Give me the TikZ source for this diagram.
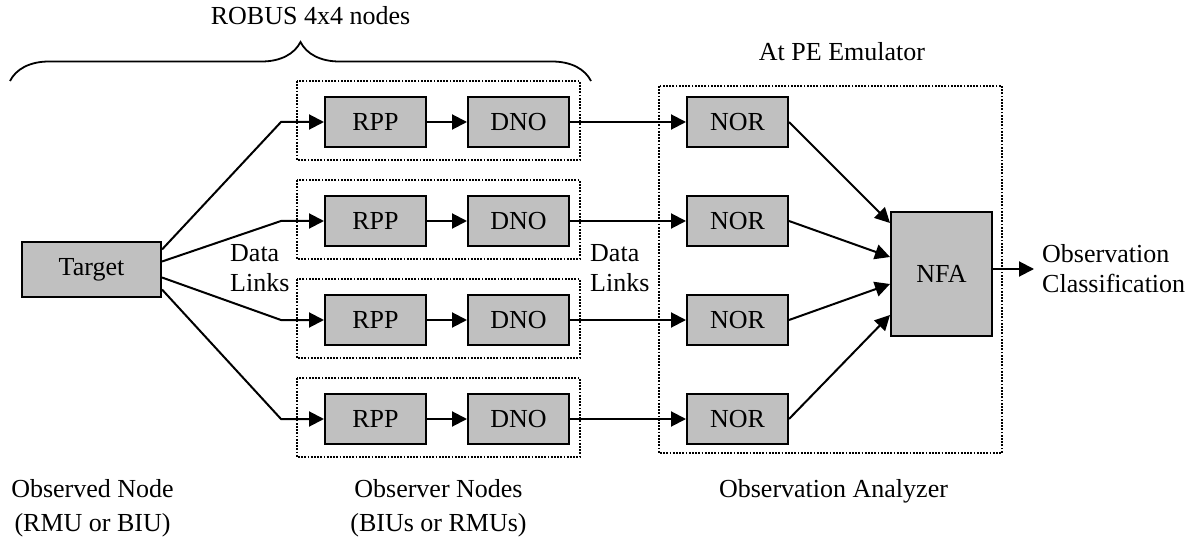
\documentclass[tikz,border=0pt]{standalone}
\usepackage{fontspec}
\setmainfont{Liberation Serif}
\usetikzlibrary{arrows.meta,decorations.pathreplacing}
\definecolor{boxgray}{RGB}{192,192,192}
\begin{document}
\begin{tikzpicture}[x=1pt,y=-1pt,
  blk/.style={draw,line width=2pt,fill=boxgray,minimum width=101pt,minimum height=50pt,inner sep=0pt,font=\fontsize{26}{30}\selectfont},
  grp/.style={draw,line width=1.8pt,dash pattern=on 1.8pt off 1.4pt},
  lnk/.style={line width=2pt,-{Triangle[length=15pt,width=15pt]}},
  lbl/.style={font=\fontsize{26}{30}\selectfont,inner sep=0pt}]
	\useasboundingbox (0,0) rectangle (1193,545);
	% observed node
	\node[blk,minimum width=139pt,minimum height=55pt] (tgt) at (91.5,269.5) {Target};
	% observer nodes
	\draw[grp] (297,81) rectangle (580,160);
	\node[blk] (rpp1) at (375.5,122) {RPP};
	\node[blk] (dno1) at (518.5,122) {DNO};
	\draw[grp] (297,180) rectangle (580,259);
	\node[blk] (rpp2) at (375.5,221) {RPP};
	\node[blk] (dno2) at (518.5,221) {DNO};
	\draw[grp] (297,279) rectangle (580,358);
	\node[blk] (rpp3) at (375.5,320) {RPP};
	\node[blk] (dno3) at (518.5,320) {DNO};
	\draw[grp] (297,378) rectangle (580,457);
	\node[blk] (rpp4) at (375.5,419) {RPP};
	\node[blk] (dno4) at (518.5,419) {DNO};
	% observation analyzer
	\draw[grp] (659,86) rectangle (1002,453);
	\node[blk] (nor1) at (737.5,122) {NOR};
	\node[blk] (nor2) at (737.5,221) {NOR};
	\node[blk] (nor3) at (737.5,320) {NOR};
	\node[blk] (nor4) at (737.5,419) {NOR};
	\node[blk,minimum height=124pt] (nfa) at (941.5,274) {NFA};
	% links
	\coordinate (e1) at (281,122);
	\coordinate (e2) at (281,221);
	\coordinate (e3) at (281,320);
	\coordinate (e4) at (281,419);
	\draw[lnk] ([yshift=20pt]tgt.east) -- (e1) -- (rpp1);
	\draw[lnk] ([yshift=8pt]tgt.east) -- (e2) -- (rpp2);
	\draw[lnk] ([yshift=-8pt]tgt.east) -- (e3) -- (rpp3);
	\draw[lnk] ([yshift=-20pt]tgt.east) -- (e4) -- (rpp4);
	\draw[lnk] (rpp1) -- (dno1);
	\draw[lnk] (rpp2) -- (dno2);
	\draw[lnk] (rpp3) -- (dno3);
	\draw[lnk] (rpp4) -- (dno4);
	\draw[lnk] (dno1) -- (nor1);
	\draw[lnk] (dno2) -- (nor2);
	\draw[lnk] (dno3) -- (nor3);
	\draw[lnk] (dno4) -- (nor4);
	\draw[lnk] (nor1.east) -- ([yshift=51pt]nfa.west);
	\draw[lnk] (nor2.east) -- ([yshift=17pt]nfa.west);
	\draw[lnk] (nor3.east) -- ([yshift=-10pt]nfa.west);
	\draw[lnk] (nor4.east) -- ([yshift=-41pt]nfa.west);
	\node[lbl,align=left,anchor=west] (cls) at (1042,269) {Observation\\Classification};
	\draw[lnk] (nfa.east |- cls.west) -- ([xshift=-8pt]cls.west);
	% labels
	\node[lbl,align=left,anchor=west] (dl1) at (230,268) {Data\\Links};
	\node[lbl,align=left,anchor=west] (dl2) at (590,268) {Data\\Links};
	\draw[line width=1.8pt,decorate,decoration={brace,amplitude=39pt}] (10,81) -- (591,81);
	\node[lbl,anchor=base] (robus) at (310.5,25) {ROBUS 4x4 nodes};
	\node[lbl,anchor=base] (pe) at (842,61) {At PE Emulator};
	\node[lbl,align=center,anchor=base] (obsd) at (92.5,531) {Observed Node\\[4pt](RMU or BIU)};
	\node[lbl,align=center,anchor=base] (obsr) at (438.5,531) {Observer Nodes\\[4pt](BIUs or RMUs)};
	\node[lbl,anchor=base] (ana) at (833.5,497) {Observation Analyzer};
\end{tikzpicture}
\end{document}
